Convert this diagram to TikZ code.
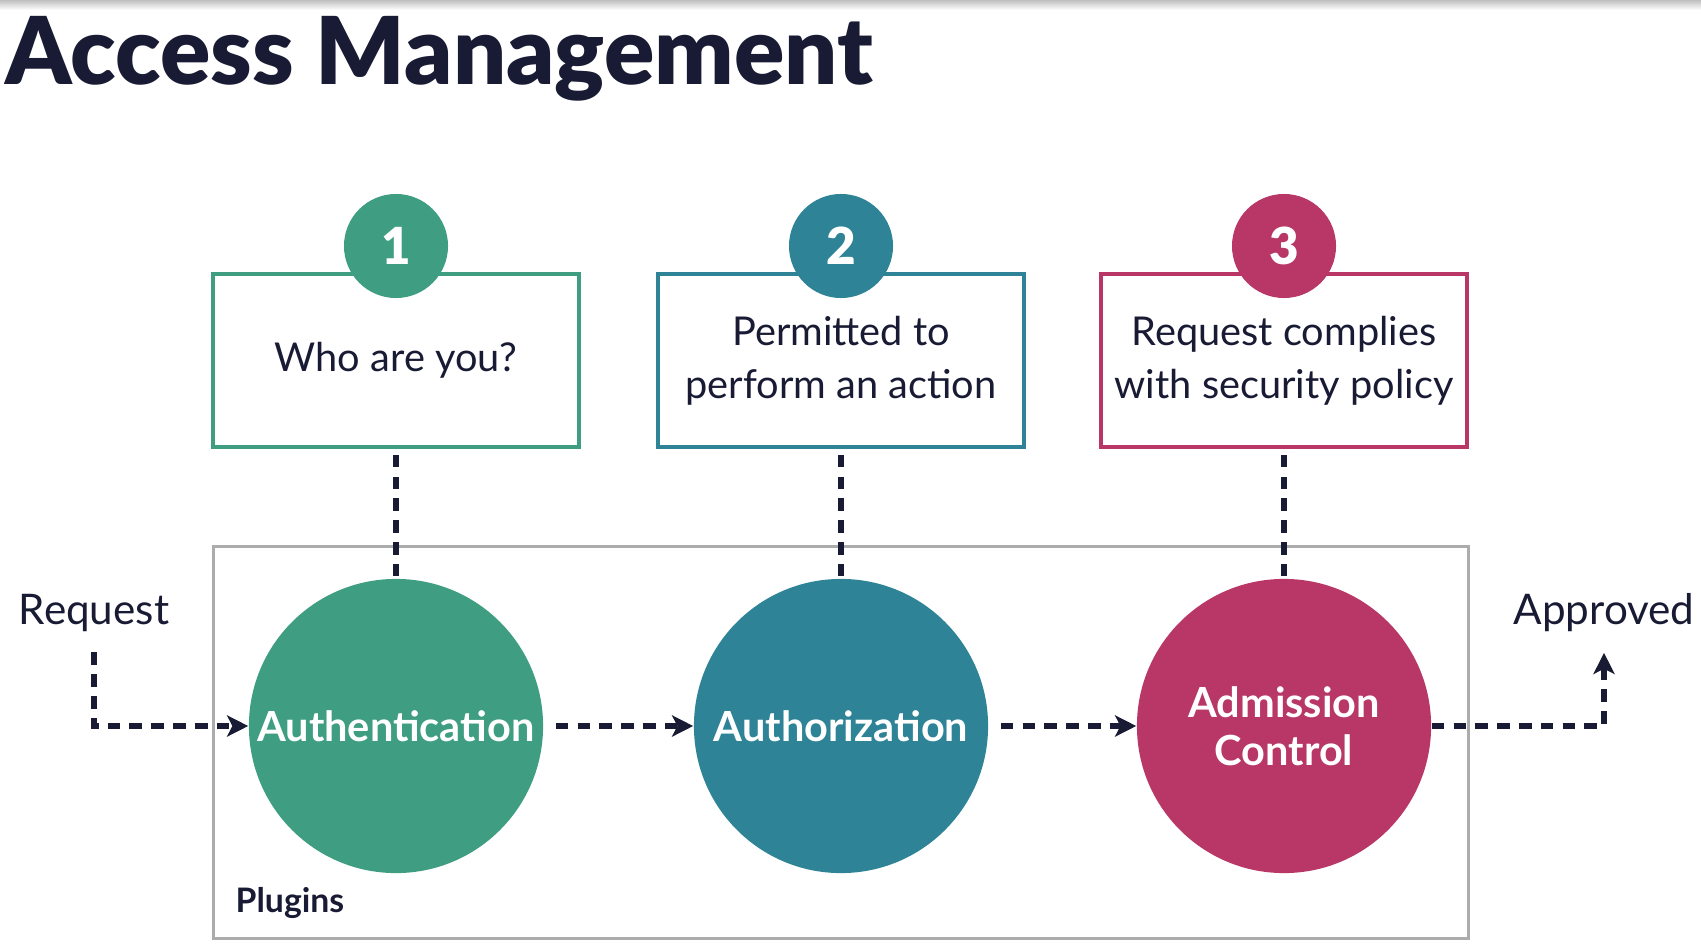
\documentclass[tikz,border=0pt]{standalone}
\usepackage{fontspec}
\setmainfont{Lato}
\newfontfamily\heavyfont{Lato Black}
\usetikzlibrary{positioning}
\usetikzlibrary{arrows.meta}

\definecolor{authgreen}{RGB}{63,158,130}
\definecolor{authteal}{RGB}{46,132,150}
\definecolor{admpink}{RGB}{184,55,103}
\definecolor{inkblue}{RGB}{24,27,51}
\definecolor{framegray}{RGB}{172,172,172}

\tikzset{
  stage/.style={circle,minimum size=2.94cm,inner sep=0pt,text=white,align=center,
    font=\fontsize{11.8}{13.6}\selectfont\bfseries},
  badge/.style={circle,minimum size=1.04cm,inner sep=0pt,text=white,
    font=\fontsize{14.5}{15}\heavyfont},
  question/.style={draw,line width=1pt,minimum width=3.66cm,minimum height=1.73cm,inner sep=1pt,
    fill=white,text=inkblue,align=center,font=\fontsize{11.3}{15}\selectfont},
  plain/.style={text=inkblue,font=\fontsize{12}{14}\selectfont,inner sep=0pt},
  link/.style={inkblue,line width=1.6pt,dash pattern=on 3.6pt off 2.6pt},
  flow/.style={link,-{Stealth[length=6pt,width=6pt,inset=1.5pt]}},
}

\begin{document}
\begin{tikzpicture}[x=0.01cm,y=-0.01cm]
\useasboundingbox (0,0) rectangle (1701,949);
\shade[top color=black!25,bottom color=white] (0,0) rectangle (1701,10);

\node[anchor=base west,inner sep=0pt,text=inkblue,font=\fontsize{26.6}{30}\heavyfont] (title) at (5,85) {Access Management};

\node[draw=framegray,line width=0.9pt,minimum width=12.54cm,minimum height=3.91cm] (plugins) at (841,742.5) {};
\node[anchor=west,text=inkblue,font=\fontsize{9.6}{11}\selectfont\bfseries,inner sep=0pt] (pluglabel) at (235,903) {Plugins};

\node[question,draw=authgreen] (who) at (396,360.5) {Who are you?};
\node[question,draw=authteal] (perm) at (841,360.5) {Permitted to\\perform an action};
\node[question,draw=admpink] (policy) at (1284,360.5) {Request complies\\with security policy};

\node[badge,fill=authgreen] (one) at (396,246) {1};
\node[badge,fill=authteal] (two) at (841,246) {2};
\node[badge,fill=admpink] (three) at (1284,246) {3};

\node[stage,fill=authgreen] (auth) at (396,726) {Authentication};
\node[stage,fill=authteal] (authz) at (841,726) {Authorization};
\node[stage,fill=admpink] (adm) at (1284,726) {Admission\\Control};

\node[plain] (req) at (94,613) {Request};
\node[plain] (appr) at (1604,613) {Approved};

\draw[link,shorten <=0.06cm] (who.south) -- (auth.north);
\draw[link,shorten <=0.06cm] (perm.south) -- (authz.north);
\draw[link,shorten <=0.06cm] (policy.south) -- (adm.north);

\draw[flow,shorten <=0.2cm] (req.south) |- (auth.west);
\draw[flow,shorten <=0.12cm] (auth.east) -- (authz.west);
\draw[flow,shorten <=0.12cm] (authz.east) -- (adm.west);
\draw[flow,shorten >=0.2cm] (adm.east) -| (appr.south);

\end{tikzpicture}
\end{document}
